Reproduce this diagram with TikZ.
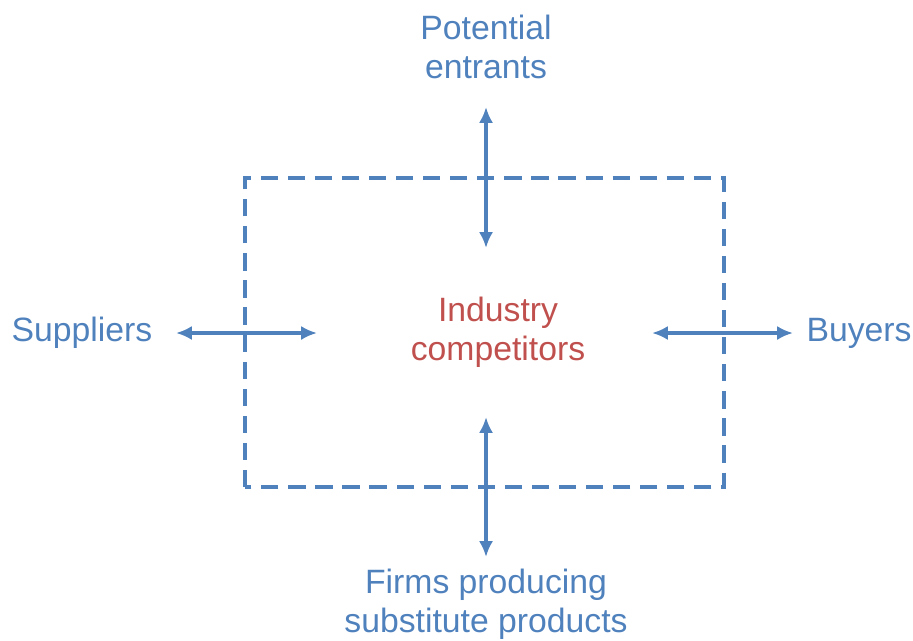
\documentclass[tikz,border=0pt]{standalone}
\usepackage{fontspec}
\setmainfont{Liberation Sans}
\usepackage{xcolor}
\usetikzlibrary{arrows.meta}

\definecolor{forceblue}{HTML}{4F81BD}
\definecolor{forcered}{HTML}{C0504D}

\tikzset{
	forcelabel/.style = {text=forceblue, align=center, inner sep=0pt,
		font=\fontsize{9.6}{11.1}\selectfont},
	twoway/.style = {forceblue, line width=1pt,
		{Latex[length=4.5pt,width=4pt]}-{Latex[length=4.5pt,width=4pt]}},
}

\begin{document}
\begin{tikzpicture}
			\def\cx{4.86};
			\def\cy{3.07};
			
			\useasboundingbox (0,0) rectangle (9.13,6.40);
			
			% industry boundary
			\draw [forceblue, line width=1.35pt, dash pattern=on 4.9pt off 2.8pt]
				(2.45,1.53) rectangle (7.24,4.62);
			
			\node [forcelabel, text=forcered] (ind) at (4.98,3.08) {Industry\\competitors};
			
			\node [forcelabel] (pot) at (\cx,5.93) {Potential\\entrants};
			\node [forcelabel] (sup) at (0.82,\cy) {Suppliers};
			\node [forcelabel] (buy) at (8.59,\cy) {Buyers};
			\node [forcelabel] (sub) at (\cx,0.36) {Firms producing\\substitute products};
			
			\coordinate (potA) at (\cx,5.33);
			\coordinate (potB) at (\cx,3.92);
			\coordinate (subA) at (\cx,2.23);
			\coordinate (subB) at (\cx,0.83);
			\coordinate (supA) at (1.76,\cy);
			\coordinate (supB) at (3.17,\cy);
			\coordinate (buyA) at (6.52,\cy);
			\coordinate (buyB) at (7.93,\cy);
			
			\draw [twoway] (potA) -- (potB);
			\draw [twoway] (subA) -- (subB);
			\draw [twoway] (supA) -- (supB);
			\draw [twoway] (buyA) -- (buyB);
		\end{tikzpicture}
\end{document}
